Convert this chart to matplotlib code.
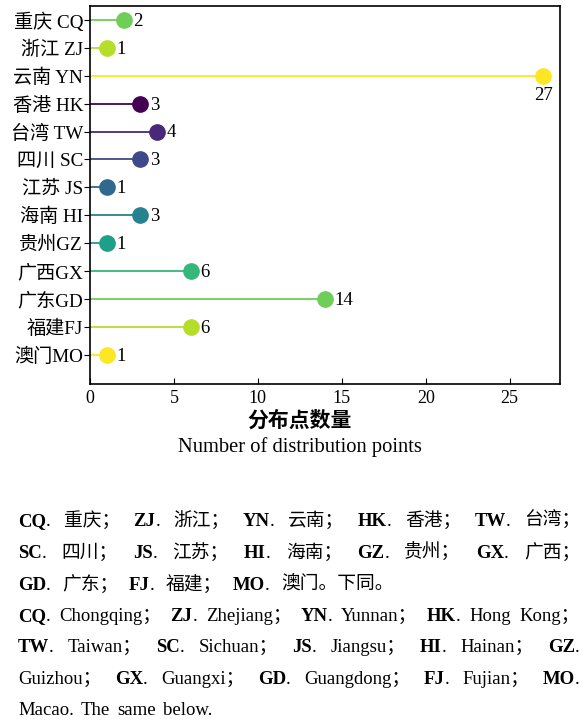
import matplotlib
matplotlib.use('Agg')
import matplotlib.pyplot as plt
import matplotlib.transforms as mtrans
import numpy as np

plt.rcParams['font.family'] = ['Liberation Serif', 'Noto Sans CJK SC']

# bottom to top
labels = ['澳门MO', '福建FJ', '广东GD', '广西GX', '贵州GZ', '海南 HI', '江苏 JS',
          '四川 SC', '台湾 TW', '香港 HK', '云南 YN', '浙江 ZJ', '重庆 CQ']
counts = [1, 6, 14, 6, 1, 3, 1, 3, 4, 3, 27, 1, 2]

xticks = [0, 5, 10, 15, 20, 25]
xlabel_cn = '分布点数量'
xlabel_en = 'Number of distribution points'

# caption lines: list of words, each word a list of (text, bold)
cap_lines = [
    [[('CQ', 1), ('.', 0)], [('重庆；', 0)], [('ZJ', 1), ('.', 0)], [('浙江；', 0)],
     [('YN', 1), ('.', 0)], [('云南；', 0)], [('HK', 1), ('.', 0)], [('香港；', 0)],
     [('TW', 1), ('.', 0)], [('台湾；', 0)]],
    [[('SC', 1), ('.', 0)], [('四川；', 0)], [('JS', 1), ('.', 0)], [('江苏；', 0)],
     [('HI', 1), ('.', 0)], [('海南；', 0)], [('GZ', 1), ('.', 0)], [('贵州；', 0)],
     [('GX', 1), ('.', 0)], [('广西；', 0)]],
    [[('GD', 1), ('.', 0)], [('广东；', 0)], [('FJ', 1), ('.', 0)], [('福建；', 0)],
     [('MO', 1), ('.', 0)], [('澳门。下同。', 0)]],
    [[('CQ', 1), ('.', 0)], [('Chongqing；', 0)], [('ZJ', 1), ('.', 0)], [('Zhejiang；', 0)],
     [('YN', 1), ('.', 0)], [('Yunnan；', 0)], [('HK', 1), ('.', 0)], [('Hong', 0)],
     [('Kong；', 0)]],
    [[('TW', 1), ('.', 0)], [('Taiwan；', 0)], [('SC', 1), ('.', 0)], [('Sichuan；', 0)],
     [('JS', 1), ('.', 0)], [('Jiangsu；', 0)], [('HI', 1), ('.', 0)], [('Hainan；', 0)],
     [('GZ', 1), ('.', 0)]],
    [[('Guizhou；', 0)], [('GX', 1), ('.', 0)], [('Guangxi；', 0)], [('GD', 1), ('.', 0)],
     [('Guangdong；', 0)], [('FJ', 1), ('.', 0)], [('Fujian；', 0)], [('MO', 1), ('.', 0)]],
    [[('Macao.', 0)], [('The', 0)], [('same', 0)], [('below.', 0)]],
]
cap_justify = [True, True, False, True, True, True, False]
cap_y = [520, 552, 584, 615, 646, 678, 709]

vir = plt.cm.viridis(np.linspace(0, 1, 10))[::-1]
colors = [vir[i % 10] for i in range(len(labels))]

W, H = 588, 724
fig = plt.figure(figsize=(W / 100, H / 100), dpi=100)
ax = fig.add_axes([90 / W, 1 - 384 / H, 470 / W, 378 / H])

ypos = np.arange(len(labels))
for y, c, col in zip(ypos, counts, colors):
    ax.hlines(y, 0, c, color=col, lw=1.3, zorder=2)
    ax.plot(c, y, 'o', ms=11, color=col, zorder=3)
    if c == max(counts):
        ax.annotate(str(c), (c, y), xytext=(0, -8), textcoords='offset points',
                    ha='center', va='top', fontsize=13.5)
    else:
        ax.annotate(str(c), (c, y), xytext=(7, -1), textcoords='offset points',
                    ha='left', va='center', fontsize=13.5)

ax.set_xlim(0, 28)
ax.set_ylim(-1.05, 12.5)
ax.set_yticks(ypos, labels)
ax.set_xticks(xticks)
ax.tick_params(axis='x', direction='in', length=4, labelsize=13, pad=4)
ax.tick_params(axis='y', direction='out', length=4, labelsize=13.8, pad=1)
for s in ax.spines.values():
    s.set_linewidth(1.2)

trans = mtrans.blended_transform_factory(ax.transData, fig.transFigure)
ax.text(12.5, 1 - 422 / H, xlabel_cn, transform=trans, ha='center', va='center',
        fontsize=15, fontweight='bold')
ax.text(12.5, 1 - 447 / H, xlabel_en, transform=trans, ha='center', va='center',
        fontsize=14.8)

# caption, laid out word by word
renderer = fig.canvas.get_renderer()
ident = mtrans.IdentityTransform()
x0, x1 = 18, 580
for words, just, yc in zip(cap_lines, cap_justify, cap_y):
    base = H - (yc + 6)
    drawn = []
    widths = []
    for word in words:
        runs = []
        w = 0
        for txt, bold in word:
            t = fig.text(0, base, txt, transform=ident, fontsize=13.5,
                         fontweight='bold' if bold else 'normal', va='baseline')
            rw = t.get_window_extent(renderer).width
            runs.append((t, rw))
            w += rw
        drawn.append(runs)
        widths.append(w)
    if just and len(words) > 1:
        gap = (x1 - x0 - sum(widths)) / (len(words) - 1)
    else:
        gap = 11 if len(words) > 4 else 7
    x = x0
    for runs, w in zip(drawn, widths):
        xx = x
        for t, rw in runs:
            t.set_x(xx)
            xx += rw
        x += w + gap

fig.savefig('out.png', dpi=100)
